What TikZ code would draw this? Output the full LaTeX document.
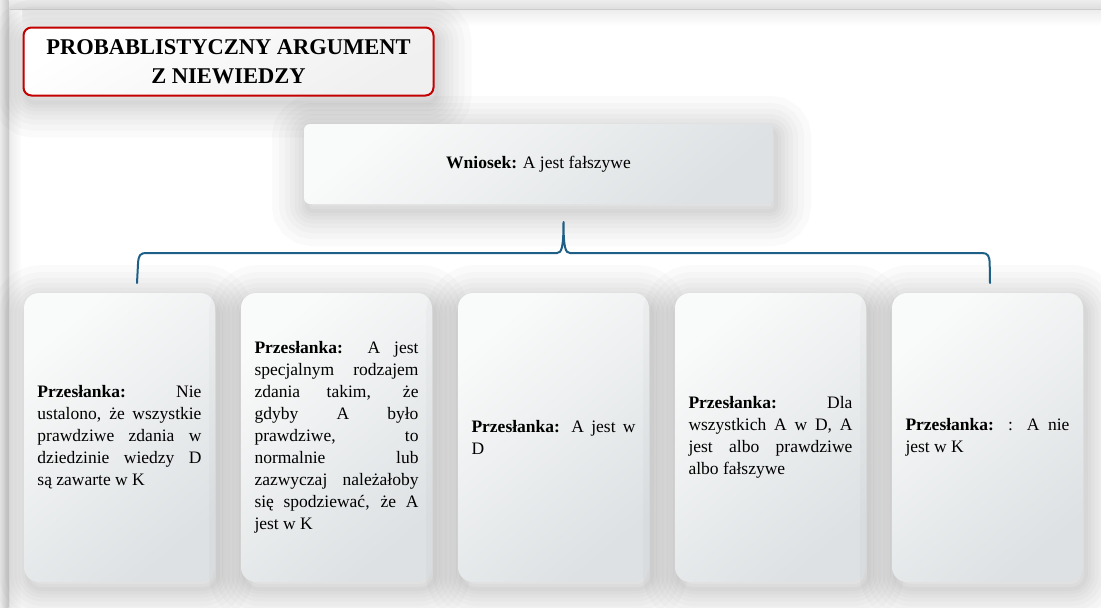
\documentclass[tikz,border=0pt]{standalone}
\usepackage{fontspec}
\setmainfont{Liberation Serif}
\usetikzlibrary{shadows}
\definecolor{boxtop}{RGB}{249,250,250}
\definecolor{boxbot}{RGB}{221,225,227}
\definecolor{titlered}{RGB}{196,0,0}
\definecolor{bracecol}{RGB}{30,95,135}
\begin{document}
\begin{tikzpicture}[x=1pt,y=-1pt,
  sh/.style={general shadow={shadow xshift=3pt, shadow yshift=-7pt, draw=black, opacity=0.02, line width=#1}},
  softshadow/.style={sh=70pt, sh=56pt, sh=44pt, sh=34pt, sh=25pt, sh=17pt, sh=10pt, sh=4pt},
  gradfill/.style={shading=axis, top color=boxtop, bottom color=boxbot, shading angle=40},
  card/.style={softshadow, gradfill, rounded corners=15pt, minimum width=191pt, minimum height=289pt,
    text width=164pt, align=justify, inner sep=0pt, font=\fontsize{17.5}{22}\selectfont,
    execute at begin node={\tolerance=10000\hbadness=10000\hyphenpenalty=10000}},
  bracestyle/.style={draw=bracecol, line width=2pt, line cap=round, line join=round}
]
\useasboundingbox (0,0) rectangle (1101,608);
\fill[white] (0,0) rectangle (1101,608);
% page edge
\shade[top color=gray!14, bottom color=white] (10,10) rectangle (1101,26);
\shade[left color=gray!14, right color=white] (10,10) rectangle (22,608);
\shade[top color=gray!14, bottom color=gray!26] (0,0) rectangle (1101,9);
\fill[gray!40] (0,8.5) rectangle (1101,10);
\shade[left color=gray!16, right color=gray!42] (0,0) rectangle (8.5,608);
\fill[gray!22] (8.5,9) rectangle (10,608);

% title
\node[softshadow, draw=titlered, line width=2pt, rounded corners=8pt, shading=axis, top color=white, bottom color=gray!12, shading angle=30,
  minimum width=410pt, minimum height=68pt, inner sep=0pt, align=center,
  font=\bfseries\fontsize{22.5}{29}\selectfont] (title) at (228.5,61.5)
  {PROBABLISTYCZNY ARGUMENT\\Z NIEWIEDZY};

% conclusion
\node[softshadow, gradfill, rounded corners=6pt, minimum width=469pt, minimum height=80pt, inner sep=0pt,
  font=\fontsize{17.5}{22}\selectfont] (concl) at (538.5,164)
  {\textbf{Wniosek:} A jest fałszywe};

% premises
\node[card] (p1) at (119.5,437.5)
  {\textbf{Przesłanka:} Nie\linebreak ustalono, że wszystkie\linebreak prawdziwe zdania w\linebreak dziedzinie wiedzy D\linebreak są zawarte w K};
\node[card] (p2) at (336.5,437.5)
  {\textbf{Przesłanka:} A jest\linebreak specjalnym rodzajem\linebreak zdania takim, że\linebreak gdyby A było\linebreak prawdziwe, to\linebreak normalnie lub\linebreak zazwyczaj należałoby\linebreak się spodziewać, że A\linebreak jest w K};
\node[card] (p3) at (553.5,437.5)
  {\textbf{Przesłanka:} A jest w\linebreak D};
\node[card] (p4) at (770.5,437.5)
  {\textbf{Przesłanka:} Dla\linebreak wszystkich A w D, A\linebreak jest albo prawdziwe\linebreak albo fałszywe};
\node[card] (p5) at (987.5,437.5)
  {\textbf{Przesłanka:} : A nie\linebreak jest w K};

% brace
\coordinate (bL) at (137,283);
\coordinate (bR) at (990,283);
\coordinate (pk) at (563.5,222);
\draw[bracestyle] (bL) -- (138,264) .. controls (138.5,255) and (140,253) .. (147,253) -- (557,253)
  .. controls (561.5,253) and (563.5,248) .. (pk)
  .. controls (563.5,248) and (565.5,253) .. (570,253) -- (982,253)
  .. controls (988,253) and (989.5,256) .. (989.7,264) -- (bR);
\end{tikzpicture}
\end{document}
